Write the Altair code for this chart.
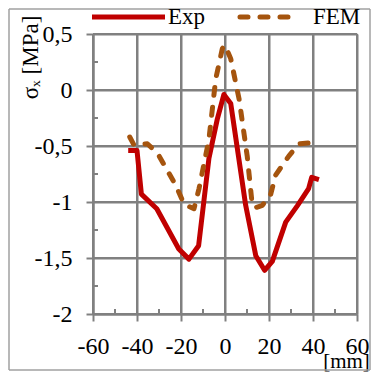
import altair as alt
import pandas as pd

# ---- data ----
series = ["Exp", "FEM"]
colors = ["#C00000", "#A5540E"]

exp_x = [-44, -40, -38, -31, -21, -16.4, -12, -7.3, -3.5, -0.5, 2.6, 9.4, 14, 18, 21.5, 27.6, 33, 38, 39.4, 42.7]
exp_y = [-0.54, -0.54, -0.93, -1.06, -1.42, -1.51, -1.39, -0.61, -0.26, -0.04, -0.12, -1.03, -1.48, -1.61, -1.53, -1.18, -1.03, -0.88, -0.78, -0.80]

fem_x = [-43.3, -41.4, -35.3, -30.8, -22.4, -18.6, -14.1, -11.8, -7.3, -4.2, -1.2, 0, 2.6, 6.4, 10.1, 12.4, 13.9, 17, 20.8, 23, 29, 33.6, 39]
fem_y = [-0.42, -0.49, -0.48, -0.56, -0.85, -1.02, -1.06, -0.88, -0.44, 0.10, 0.37, 0.40, 0.28, -0.08, -0.59, -1.03, -1.05, -1.03, -0.93, -0.76, -0.59, -0.48, -0.47]

x_ticks = [-60, -40, -20, 0, 20, 40, 60]
y_ticks = [-2, -1.5, -1, -0.5, 0, 0.5]
x_minor = [-50, -30, -10, 10, 30, 50]
y_minor = [-1.75, -1.25, -0.75, -0.25, 0.25]
x_range = [-60, 60]
y_range = [-2, 0.5]

FONT = "Liberation Serif"
GRID = "#808080"
GW = 2
W, H = 264, 280

exp_df = pd.DataFrame({"x": exp_x, "y": exp_y})
fem_df = pd.DataFrame({"x": fem_x, "y": fem_y})
vg = pd.DataFrame({"v": x_ticks, "lo": [y_range[0]] * len(x_ticks), "hi": [y_range[1]] * len(x_ticks)})
hg = pd.DataFrame({"v": y_ticks, "lo": [x_range[0]] * len(y_ticks), "hi": [x_range[1]] * len(y_ticks)})

xscale = alt.Scale(domain=x_range, nice=False, zero=False)
yscale = alt.Scale(domain=y_range, nice=False, zero=False)

label_expr = "replace(toString(datum.value), '.', ',')"

common = dict(grid=True, gridColor=GRID, gridWidth=GW, domainColor=GRID, domainWidth=GW,
              tickColor=GRID, tickWidth=GW, tickSize=7,
              labelFont=FONT, labelFontSize=24, labelColor="black",
              labelFlush=False, labelOverlap=False,
              titleFont=FONT, titleFontWeight="normal", titleColor="black")

x_axis = alt.Axis(values=x_ticks, labelPadding=13, labelBaseline="top", labelExpr=label_expr,
                  title="[mm]", titleFontSize=21, titleX=253, titleY=47, titleAlign="center",
                  titleBaseline="middle", titleAngle=0, **common)
y_axis = alt.Axis(values=y_ticks, labelPadding=14, labelExpr=label_expr,
                  title="σₓ [MPa]", titleFontSize=23, titleX=-63, titleY=23, titleAlign="center",
                  titleBaseline="middle", titleAngle=270, **common)

def X(field):
    return alt.X(field, type="quantitative", scale=xscale, axis=x_axis)

def Y(field):
    return alt.Y(field, type="quantitative", scale=yscale, axis=y_axis)

# grid drawn as data-driven rules (in addition to the axis grid)
vgrid = alt.Chart(vg).mark_rule(color=GRID, strokeWidth=GW).encode(
    x=X("v"), y=Y("lo"), y2="hi:Q")
hgrid = alt.Chart(hg).mark_rule(color=GRID, strokeWidth=GW).encode(
    y=Y("v"), x=X("lo"), x2="hi:Q")

exp_line = alt.Chart(exp_df).mark_line(
    color=colors[0], strokeWidth=5, strokeJoin="round"
).encode(x=X("x"), y=Y("y"))

fem_line = alt.Chart(fem_df).mark_line(
    color=colors[1], strokeWidth=5, strokeDash=[8, 12], strokeCap="round", strokeJoin="round"
).encode(x=X("x"), y=Y("y"))

# inward minor ticks
xm = alt.Chart(pd.DataFrame({"v": x_minor})).mark_rule(color=GRID, strokeWidth=GW).encode(
    x=X("v"), y=alt.value(H), y2=alt.value(H - 5)
)
ym = alt.Chart(pd.DataFrame({"v": y_minor})).mark_rule(color=GRID, strokeWidth=GW).encode(
    y=Y("v"), x=alt.value(0), x2=alt.value(5)
)

# legend (manual, top)
one = alt.Data(values=[{}])
leg_exp_line = alt.Chart(one).mark_rule(color=colors[0], strokeWidth=5).encode(
    x=alt.value(-1), x2=alt.value(72), y=alt.value(-17)
)
leg_exp_text = alt.Chart(pd.DataFrame({"name": [series[0]]})).mark_text(
    font=FONT, fontSize=23, align="left", baseline="alphabetic", color="black"
).encode(text="name:N", x=alt.value(75), y=alt.value(-10))
leg_fem_line = alt.Chart(one).mark_rule(
    color=colors[1], strokeWidth=5, strokeDash=[8, 12], strokeCap="round"
).encode(x=alt.value(147), x2=alt.value(205), y=alt.value(-17))
leg_fem_text = alt.Chart(pd.DataFrame({"name": [series[1]]})).mark_text(
    font=FONT, fontSize=23, align="left", baseline="alphabetic", color="black"
).encode(text="name:N", x=alt.value(220), y=alt.value(-10))

# outer frame as four rules
BL, BR, BT, BB = -84, 277, -25, 336
FR = "#a0a0a0"
frame = [
    alt.Chart(one).mark_rule(color=FR, strokeWidth=1.5).encode(
        x=alt.value(BL), x2=alt.value(BR), y=alt.value(BT)),
    alt.Chart(one).mark_rule(color=FR, strokeWidth=1.5).encode(
        x=alt.value(BL), x2=alt.value(BR), y=alt.value(BB)),
    alt.Chart(one).mark_rule(color=FR, strokeWidth=1.5).encode(
        x=alt.value(BL), y=alt.value(BT), y2=alt.value(BB)),
    alt.Chart(one).mark_rule(color=FR, strokeWidth=1.5).encode(
        x=alt.value(BR), y=alt.value(BT), y2=alt.value(BB)),
]

chart = alt.layer(
    vgrid, hgrid, xm, ym, exp_line, fem_line, *frame,
    leg_exp_line, leg_exp_text, leg_fem_line, leg_fem_text,
).properties(
    width=W, height=H,
    padding={"left": 85, "top": 26, "right": 15, "bottom": 58},
    autosize=alt.AutoSizeParams(type="none"),
)

chart.save("out.html", embed_options={"renderer": "svg", "actions": False})
